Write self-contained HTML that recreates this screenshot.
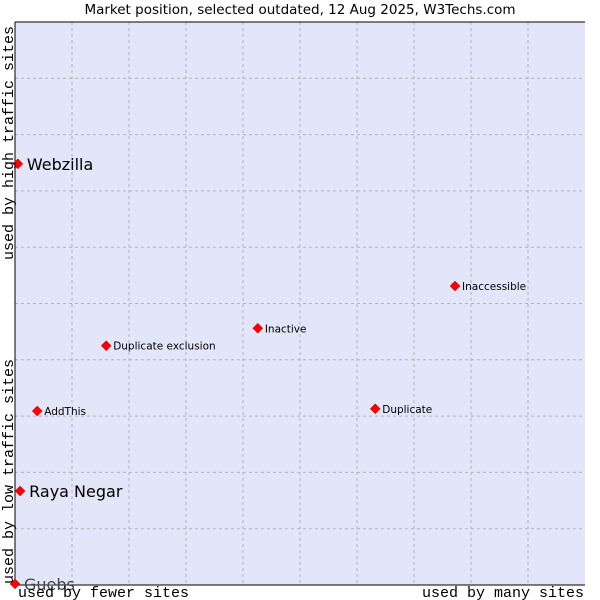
<!DOCTYPE html>
<html><head><meta charset="utf-8"><style>body{margin:0;background:#fff}svg{display:block}</style></head>
<body>
<svg id="c" width="600" height="600" xmlns="http://www.w3.org/2000/svg">
<rect width="600" height="600" fill="#fff"/>
<text x="300" y="14" text-anchor="middle" font-family="DejaVu Sans, sans-serif" font-size="13.5" fill="#000">Market position, selected outdated, 12 Aug 2025, W3Techs.com</text>
<rect x="15" y="22" width="570" height="563" fill="#e3e5f9"/>
<g id="grid"></g>
<line x1="15" y1="22" x2="15" y2="585" stroke="#000"/>
<line x1="15" y1="585" x2="585" y2="585" stroke="#000"/>
<line x1="15" y1="22" x2="585" y2="22" stroke="#000"/>
<g id="pts"></g>
<text x="18" y="597" font-family="Liberation Mono, monospace" font-size="15">used by fewer sites</text>
<text x="584" y="597" text-anchor="end" font-family="Liberation Mono, monospace" font-size="15">used by many sites</text>
<text transform="translate(13,584) rotate(-90)" font-family="Liberation Mono, monospace" font-size="15">used by low traffic sites</text>
<text transform="translate(13,260) rotate(-90)" font-family="Liberation Mono, monospace" font-size="15">used by high traffic sites</text>
</svg>
<script>
const names = ["Webzilla","Raya Negar","Guebs","AddThis","Duplicate exclusion","Inactive","Duplicate","Inaccessible"];
const xVals = [0.5,0.9,0,3.9,16,42.6,63.2,77.2];
const yVals = [74.8,16.7,0.2,30.9,42.5,45.6,31.3,53.1];
const bigLabel = [true,true,true,false,false,false,false,false];
const L=15,R=585,T=22,B=585;
const sx=v=>L+v/100*(R-L), sy=v=>B-v/100*(B-T);
const NS="http://www.w3.org/2000/svg";
const grid=document.getElementById('grid');
for(let i=1;i<10;i++){
  const v=document.createElementNS(NS,'line');
  v.setAttribute('x1',sx(i*10));v.setAttribute('x2',sx(i*10));v.setAttribute('y1',T);v.setAttribute('y2',B);
  v.setAttribute('stroke','#b4b4b4');v.setAttribute('stroke-dasharray','3,3');
  
  
  grid.appendChild(v);
  const h=document.createElementNS(NS,'line');
  h.setAttribute('y1',sy(i*10));h.setAttribute('y2',sy(i*10));h.setAttribute('x1',L);h.setAttribute('x2',R);
  h.setAttribute('stroke','#b4b4b4');h.setAttribute('stroke-dasharray','3,3');
  
  
  grid.appendChild(h);
}
const pts=document.getElementById('pts');
names.forEach((n,i)=>{
  const x=sx(xVals[i]),y=sy(yVals[i]);
  const d=document.createElementNS(NS,'path');
  d.setAttribute('d',`M${x-5},${y} L${x},${y-5} L${x+5},${y} L${x},${y+5} Z`);
  d.setAttribute('fill','#f00');d.setAttribute('stroke','#b00');d.setAttribute('stroke-width','0.5');
  
  
  pts.appendChild(d);
  const t=document.createElementNS(NS,'text');
  t.setAttribute('x',x+(bigLabel[i]?9:7));t.setAttribute('y',y+(bigLabel[i]?6:4));
  t.setAttribute('font-family','DejaVu Sans, sans-serif');
  t.setAttribute('font-size',bigLabel[i]?'16':'10.5');
  t.setAttribute('fill',i==2?'#444':'#000');
  t.textContent=n;
  
  
  pts.appendChild(t);
});
</script>
</body></html>
